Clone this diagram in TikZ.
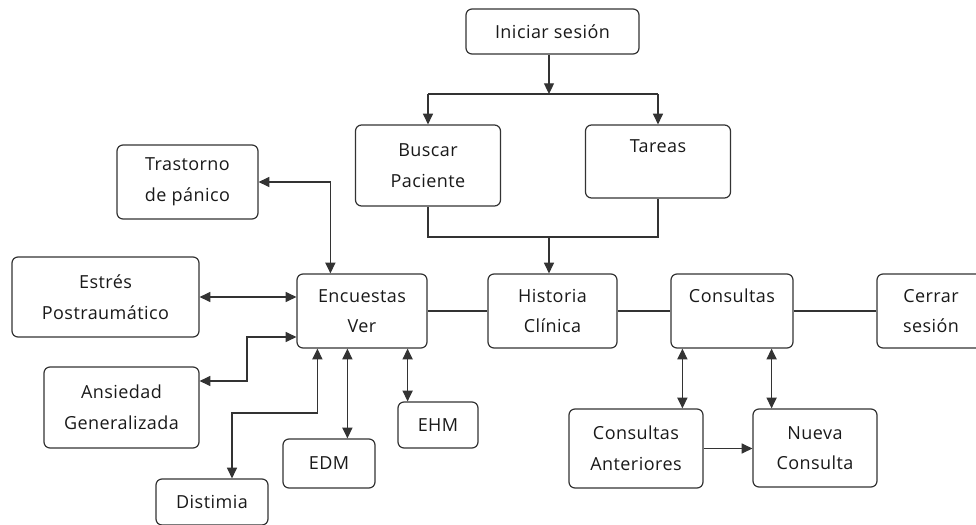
\documentclass[tikz,border=0pt]{standalone}
\usepackage{fontspec}
\setmainfont[LetterSpace=2.5]{Open Sans}
\usetikzlibrary{arrows.meta}

\tikzset{
  caja/.style={draw=black!80, line width=0.9pt, rounded corners=4.5pt, align=center, inner sep=0pt, text=black!90, font=\fontsize{13.5}{23}\selectfont},
  tam/.style 2 args={minimum width=#1*0.75pt, minimum height=#2*0.75pt},
  linea/.style={draw=black!80, line width=0.9pt},
  flecha/.style={-{Triangle[length=8pt,width=7.5pt]}},
  doble/.style={{Triangle[length=8pt,width=7.5pt]}-{Triangle[length=8pt,width=7.5pt]}},
}

\begin{document}
\begin{tikzpicture}[x=0.75pt,y=0.75pt,yscale=-1,xscale=1]
\useasboundingbox (0,0) rectangle (976,525);

%Shape: Rounded Rect (top)
\node [caja, tam={173}{45}] (ini) at (552.5,31.5) {Iniciar sesión};
\node [caja, tam={145}{81}] (buscar) at (428,165.5) {Buscar\\Paciente};
\node [caja, tam={145}{73}] (tareas) at (658,161.5) {Tareas\\~};
%Shape: Rounded Rect (middle row)
\node [caja, tam={130}{74}] (enc) at (362,311) {Encuestas\\Ver};
\node [caja, tam={129}{74}] (hc) at (552.5,311) {Historia\\Clínica};
\node [caja, tam={122}{74}] (cons) at (732,311) {Consultas\\~};
\node [caja, tam={108}{74}] (cerrar) at (931,311) {Cerrar\\sesión};
%Shape: Rounded Rect (encuestas)
\node [caja, tam={141}{74}] (tras) at (187.5,182) {Trastorno\\de pánico};
\node [caja, tam={187}{80}] (estres) at (105.5,297) {Estrés\\Postraumático};
\node [caja, tam={155}{81}] (ansiedad) at (121.5,407.5) {Ansiedad\\Generalizada};
\node [caja, tam={112}{46}] (distimia) at (212,502) {Distimia};
\node [caja, tam={92}{49}] (edm) at (329,463.5) {EDM};
\node [caja, tam={80}{46}] (ehm) at (438,425) {EHM};
%Shape: Rounded Rect (consultas)
\node [caja, tam={134}{79}] (ant) at (636,448.5) {Consultas\\Anteriores};
\node [caja, tam={124}{78}] (nueva) at (815,448) {Nueva\\Consulta};

\coordinate (reparto) at (549,94);
\coordinate (union) at (549,237);
\coordinate (codoA) at (247,381);
\coordinate (codoD) at (232,413);

%Straight Lines
\draw [linea, flecha] (ini.south -| reparto) -- (reparto);
\draw [linea] (buscar.north |- reparto) -- (tareas.north |- reparto);
\draw [linea, flecha] (buscar.north |- reparto) -- (buscar.north);
\draw [linea, flecha] (tareas.north |- reparto) -- (tareas.north);
\draw [linea] (buscar.south) |- (union) -| (tareas.south);
\draw [linea, flecha] (union) -- (union |- hc.north);
\draw [linea] (enc.east) -- (hc.west) (hc.east) -- (cons.west) (cons.east) -- (cerrar.west);

%Straight Lines (consultas)
\draw [linea, doble] ([xshift=9pt]cons.south west) -- ([xshift=9pt]cons.south west |- ant.north);
\draw [linea, doble] ([xshift=-16.5pt]cons.south east) -- ([xshift=-16.5pt]cons.south east |- nueva.north);
\draw [linea, flecha] (ant.east) -- (ant.east -| nueva.west);

%Straight Lines (encuestas)
\draw [linea, doble] (tras.east) -| ([xshift=25.5pt]enc.north west);
\draw [linea, doble] (estres.east) -- (estres.east -| enc.west);
\draw [linea, doble] ([yshift=19.5pt]enc.west) -| (codoA) -- (codoA -| ansiedad.east);
\draw [linea, doble] ([xshift=15.75pt]enc.south west) |- (codoD) -- (codoD |- distimia.north);
\draw [linea, doble] ([xshift=38.25pt]enc.south west) -- ([xshift=38.25pt]enc.south west |- edm.north);
\draw [linea, doble] ([xshift=-15pt]enc.south east) -- ([xshift=-15pt]enc.south east |- ehm.north);

\end{tikzpicture}
\end{document}
